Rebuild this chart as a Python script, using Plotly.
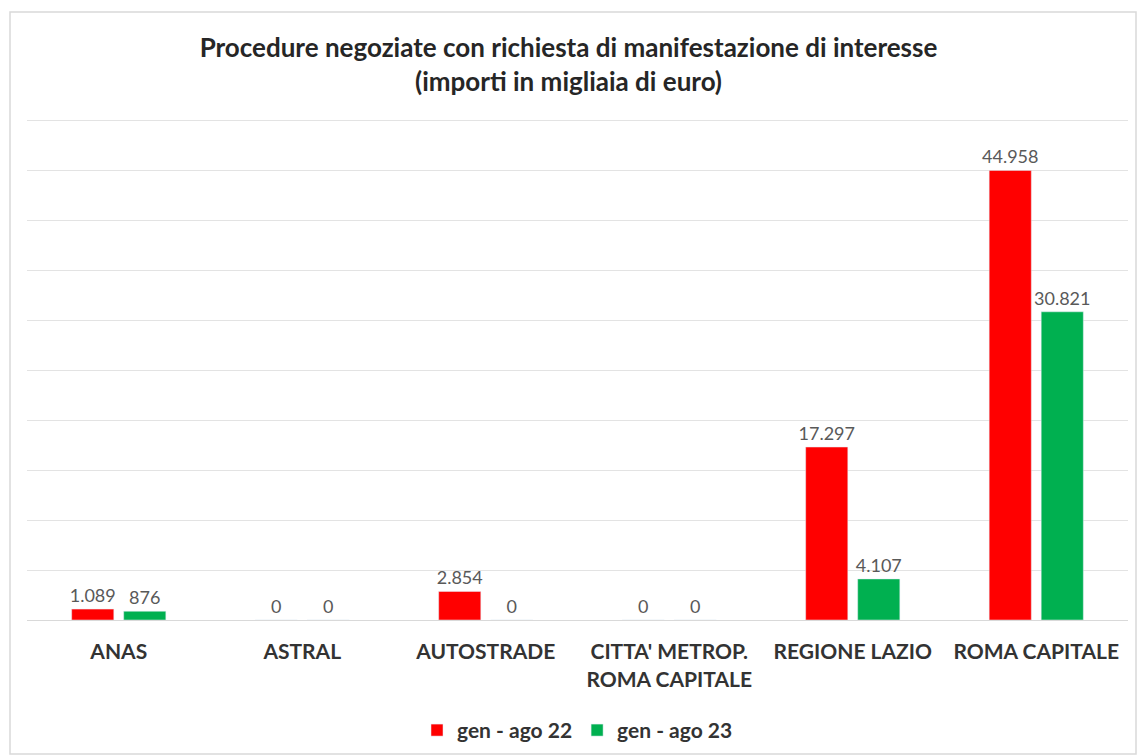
import plotly.graph_objects as go

categories = ["ANAS", "ASTRAL", "AUTOSTRADE", "CITTA' METROP.<br>ROMA CAPITALE", "REGIONE LAZIO", "ROMA CAPITALE"]
series_names = ["gen - ago 22", "gen - ago 23"]
values_22 = [1089, 0, 2854, 0, 17297, 44958]
values_23 = [876, 0, 0, 0, 4107, 30821]
colors = ["#FF0000", "#00B050"]

W, H = 1137, 755
ml, mr, mt, mb = 27, 9, 118, 135

fig = go.Figure()
for name, vals, col in zip(series_names, [values_22, values_23], colors):
    fig.add_trace(go.Bar(
        x=categories, y=vals, name=name, marker_color=col,
        texttemplate="%{y:,}", textposition="outside", cliponaxis=False,
        constraintext="none",
        textfont=dict(family="Lato", size=18, color="#595959"),
    ))

fig.update_layout(
    width=W, height=H,
    margin=dict(l=ml, r=mr, t=mt, b=mb, autoexpand=False),
    paper_bgcolor="white", plot_bgcolor="white",
    separators=",.",
    barmode="group", bargap=0.433, bargroupgap=0.19,
    font=dict(family="Lato"),
    title=dict(
        text="Procedure negoziate con richiesta di manifestazione di interesse<br>(importi in migliaia di euro)",
        x=0.5, xanchor="center", y=1 - 57 / H, yanchor="middle",
        font=dict(family="Lato", size=26, color="#262626", weight="bold"),
    ),
    xaxis=dict(
        tickfont=dict(family="Lato", size=21, color="#333333", weight="bold"),
        showline=True, linecolor="#D9D9D9", showgrid=False,
        ticks="outside", ticklen=13, tickcolor="rgba(0,0,0,0)",
        automargin=False,
    ),
    yaxis=dict(
        range=[0, 50200], tickvals=[5000 * i for i in range(1, 11)], showticklabels=False,
        showgrid=True, gridcolor="#E3E3E3", gridwidth=1, zeroline=False,
        automargin=False,
    ),
    legend=dict(
        orientation="h", x=0.50, xanchor="center", y=-0.22, yanchor="middle",
        font=dict(family="Lato", size=21, color="#333333", weight="bold"),
        itemwidth=30,
    ),
    showlegend=True,
)

pw = W - ml - mr
ph = H - mt - mb
def px2x(p): return (p - ml) / pw
def px2y(p): return (H - mb - p) / ph
fig.add_shape(type="rect", xref="paper", yref="paper",
              x0=px2x(10), x1=px2x(1136), y0=px2y(12), y1=px2y(754),
              line=dict(color="#D9D9D9", width=1.5), layer="below")

fig.write_html("out.html", config={"displayModeBar": False},
               post_script="document.body.style.margin='0px';")
